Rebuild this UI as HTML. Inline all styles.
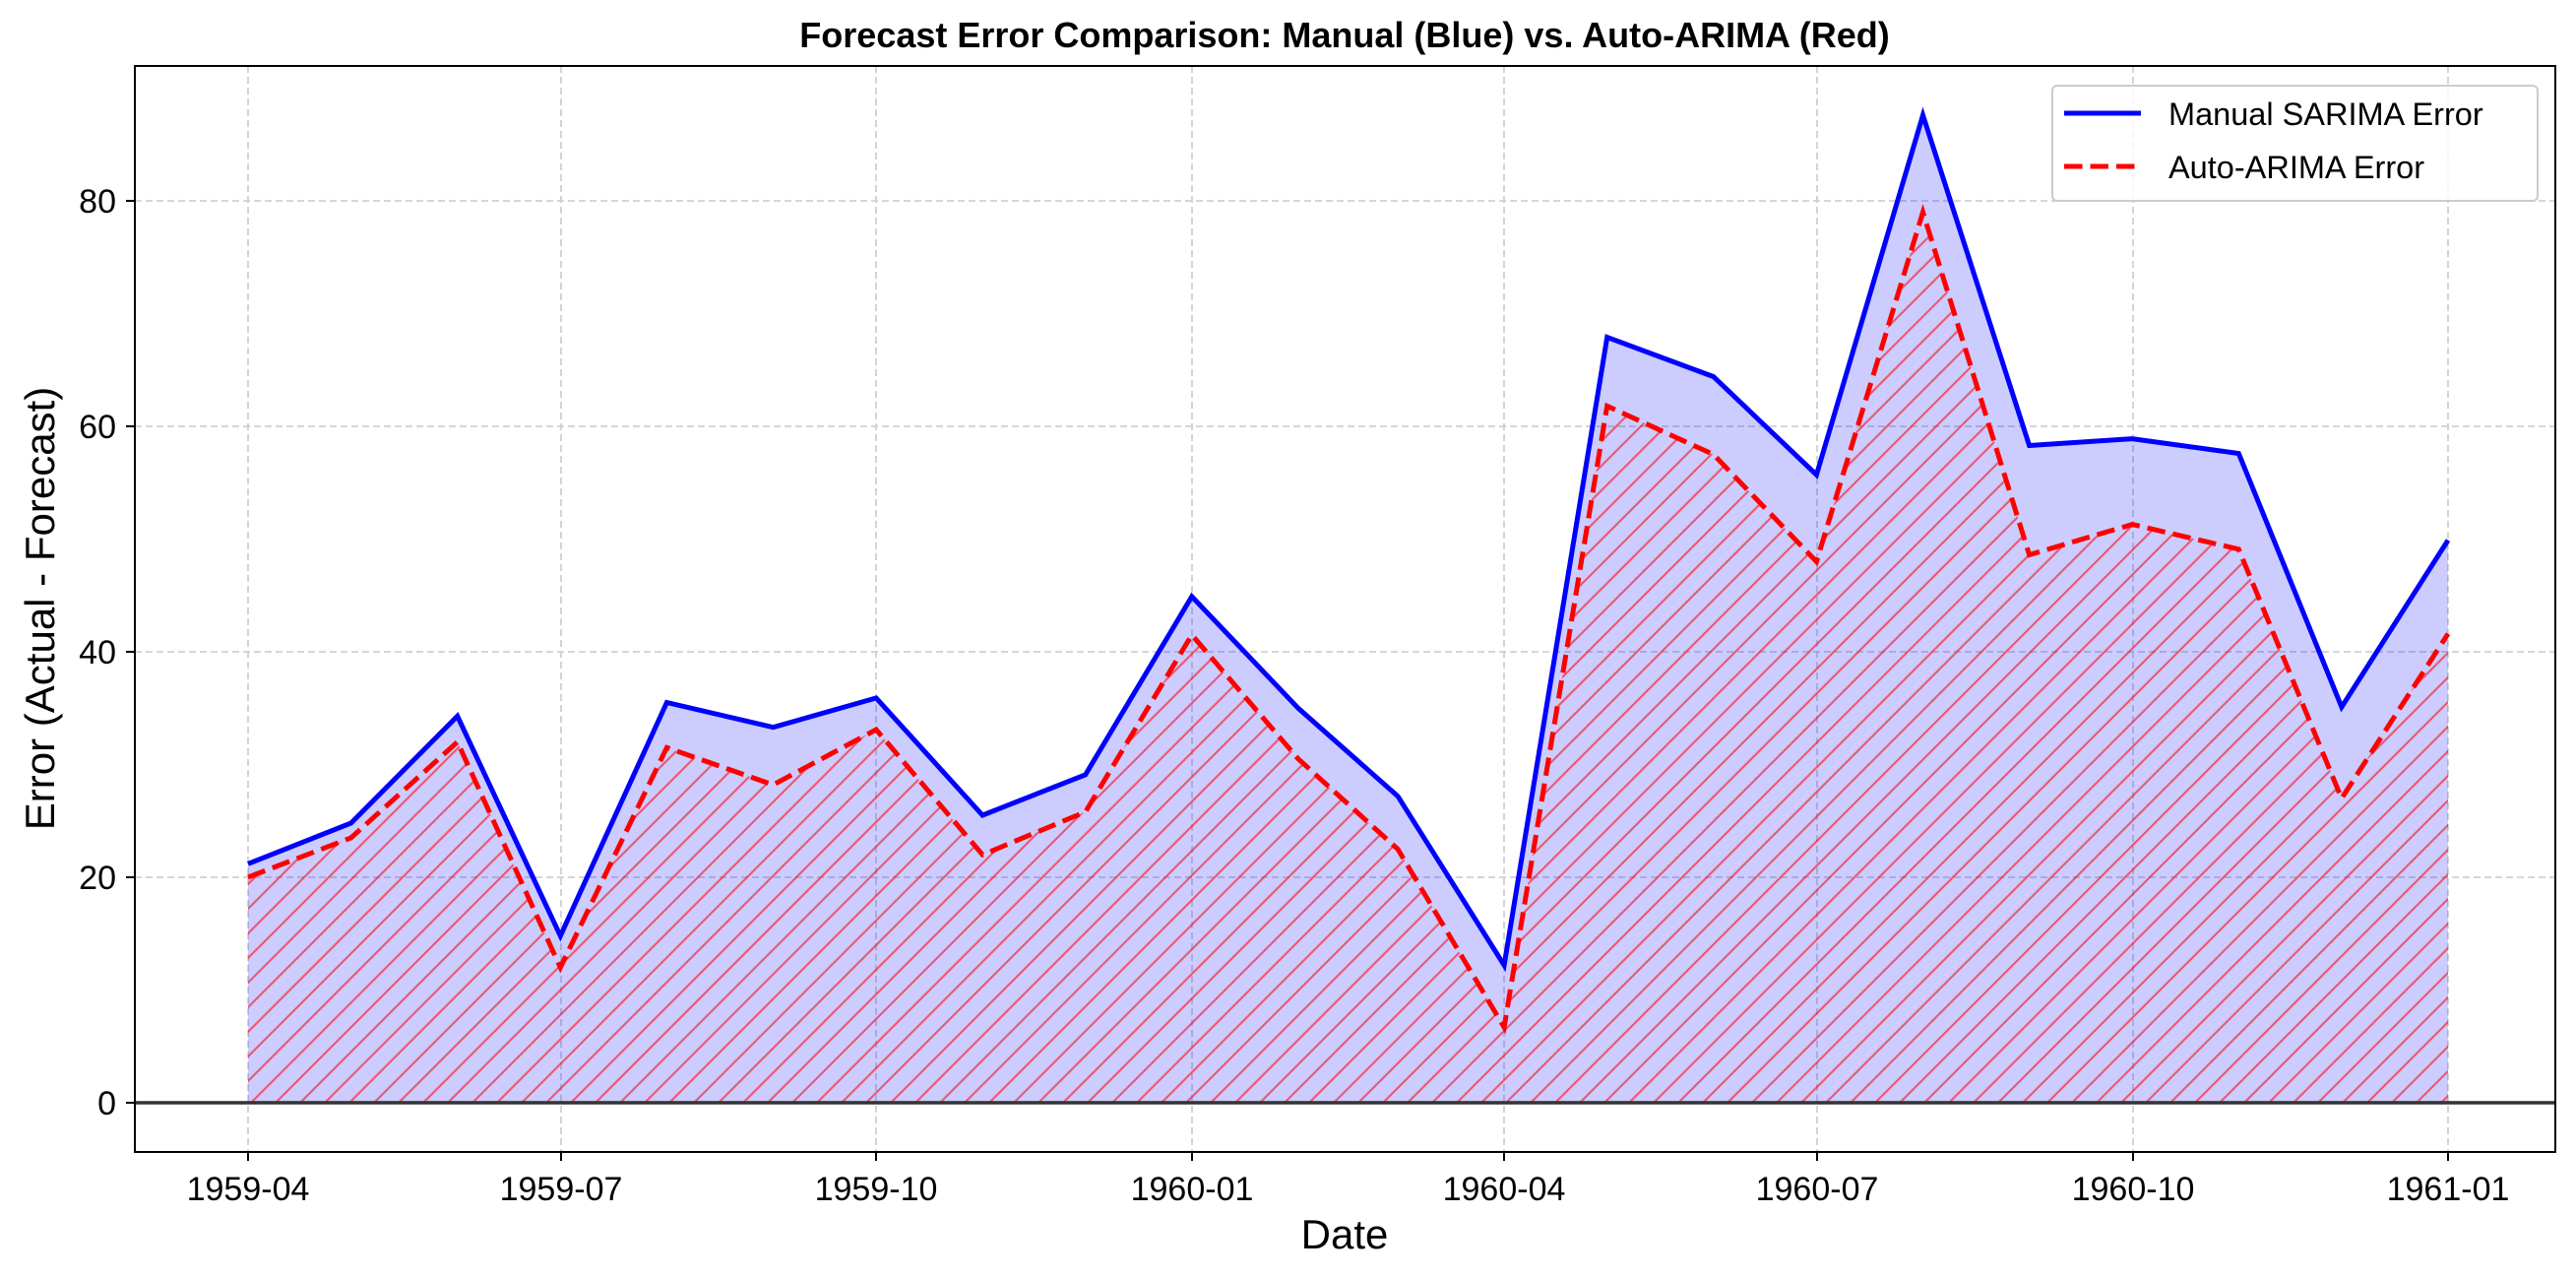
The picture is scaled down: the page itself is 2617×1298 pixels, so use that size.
<!DOCTYPE html>
<html><head><meta charset="utf-8"><style>
html,body{margin:0;padding:0;background:#fff;}
svg{display:block;font-family:"Liberation Sans",Arial,sans-serif;}
</style></head><body>
<svg width="2617" height="1298" viewBox="0 0 2617 1298" xmlns="http://www.w3.org/2000/svg">
<defs>
<pattern id="h" patternUnits="userSpaceOnUse" width="25" height="25">
<path d="M-6,6 L6,-6 M0,25 L25,0 M19,31 L31,19" stroke="rgba(255,0,0,0.55)" stroke-width="2.2"/>
</pattern>
<clipPath id="c"><rect x="137" y="67" width="2459" height="1103"/></clipPath>
</defs>
<rect width="2617" height="1298" fill="#fff"/>
<g stroke="#d0d0d0" stroke-width="1.8" stroke-dasharray="7,4">
<line x1="137" x2="2596" y1="1120" y2="1120"/>
<line x1="137" x2="2596" y1="891" y2="891"/>
<line x1="137" x2="2596" y1="662" y2="662"/>
<line x1="137" x2="2596" y1="433" y2="433"/>
<line x1="137" x2="2596" y1="204" y2="204"/>
<line y1="67" y2="1170" x1="252" x2="252"/>
<line y1="67" y2="1170" x1="570" x2="570"/>
<line y1="67" y2="1170" x1="890" x2="890"/>
<line y1="67" y2="1170" x1="1211" x2="1211"/>
<line y1="67" y2="1170" x1="1528" x2="1528"/>
<line y1="67" y2="1170" x1="1846" x2="1846"/>
<line y1="67" y2="1170" x1="2167" x2="2167"/>
<line y1="67" y2="1170" x1="2487" x2="2487"/>
</g>
<g clip-path="url(#c)">
<polygon fill="rgba(0,0,255,0.2)" points="252,1120 252,877.3 356.6,836 464.7,727.3 569.3,950.5 677.4,713.5 785.5,738.7 890.1,708.9 998.2,828 1102.7,786.8 1210.8,605.9 1318.9,719.3 1420,808.6 1528.1,980.3 1632.7,342.5 1740.8,382.6 1845.4,482.2 1953.5,117 2061.6,452.5 2166.2,445.6 2274.3,460.5 2378.9,718.1 2487,548.6 2487,1120"/>
<polygon fill="url(#h)" points="252,1120 252,891 356.6,850.9 464.7,753.6 569.3,982.6 677.4,759.3 785.5,797.1 890.1,741 998.2,868.1 1102.7,824.6 1210.8,644.8 1318.9,770.8 1420,862.4 1528.1,1043.3 1632.7,412.4 1740.8,461.6 1845.4,570.4 1953.5,215.5 2061.6,563.5 2166.2,532.6 2274.3,557.8 2378.9,810.9 2487,643.7 2487,1120"/>
<line x1="137" x2="2596" y1="1120" y2="1120" stroke="#333" stroke-width="3.4"/>
<polyline fill="none" stroke="#0000ff" stroke-width="5" points="252,877.3 356.6,836 464.7,727.3 569.3,950.5 677.4,713.5 785.5,738.7 890.1,708.9 998.2,828 1102.7,786.8 1210.8,605.9 1318.9,719.3 1420,808.6 1528.1,980.3 1632.7,342.5 1740.8,382.6 1845.4,482.2 1953.5,117 2061.6,452.5 2166.2,445.6 2274.3,460.5 2378.9,718.1 2487,548.6"/>
<polyline fill="none" stroke="#ff0000" stroke-width="5" stroke-dasharray="18.5,8" points="252,891 356.6,850.9 464.7,753.6 569.3,982.6 677.4,759.3 785.5,797.1 890.1,741 998.2,868.1 1102.7,824.6 1210.8,644.8 1318.9,770.8 1420,862.4 1528.1,1043.3 1632.7,412.4 1740.8,461.6 1845.4,570.4 1953.5,215.5 2061.6,563.5 2166.2,532.6 2274.3,557.8 2378.9,810.9 2487,643.7"/>
</g>
<rect x="137" y="67" width="2459" height="1103" fill="none" stroke="#000" stroke-width="2"/>
<g stroke="#000" stroke-width="2">
<line x1="128" x2="137" y1="1120" y2="1120"/><line x1="128" x2="137" y1="891" y2="891"/><line x1="128" x2="137" y1="662" y2="662"/><line x1="128" x2="137" y1="433" y2="433"/><line x1="128" x2="137" y1="204" y2="204"/>
<line y1="1170" y2="1179" x1="252" x2="252"/><line y1="1170" y2="1179" x1="570" x2="570"/><line y1="1170" y2="1179" x1="890" x2="890"/><line y1="1170" y2="1179" x1="1211" x2="1211"/><line y1="1170" y2="1179" x1="1528" x2="1528"/><line y1="1170" y2="1179" x1="1846" x2="1846"/><line y1="1170" y2="1179" x1="2167" x2="2167"/><line y1="1170" y2="1179" x1="2487" x2="2487"/>
</g>
<g font-size="34" fill="#000" text-anchor="end">
<text x="118" y="1132">0</text><text x="118" y="903">20</text><text x="118" y="674">40</text><text x="118" y="445">60</text><text x="118" y="216">80</text>
</g>
<g font-size="34" fill="#000" text-anchor="middle">
<text x="252" y="1219">1959-04</text><text x="570" y="1219">1959-07</text><text x="890" y="1219">1959-10</text><text x="1211" y="1219">1960-01</text><text x="1528" y="1219">1960-04</text><text x="1846" y="1219">1960-07</text><text x="2167" y="1219">1960-10</text><text x="2487" y="1219">1961-01</text>
</g>
<text x="1366" y="1268" font-size="42" text-anchor="middle">Date</text>
<text transform="translate(55,618) rotate(-90)" font-size="42" text-anchor="middle">Error (Actual - Forecast)</text>
<text x="1366" y="48" font-size="36" font-weight="bold" text-anchor="middle">Forecast Error Comparison: Manual (Blue) vs. Auto-ARIMA (Red)</text>
<rect x="2085" y="87" width="493" height="117" rx="5" fill="rgba(255,255,255,0.8)" stroke="#ccc" stroke-width="2"/>
<line x1="2097" x2="2175" y1="115" y2="115" stroke="#0000ff" stroke-width="5"/>
<line x1="2097" x2="2175" y1="169" y2="169" stroke="#ff0000" stroke-width="5" stroke-dasharray="18.5,8"/>
<text x="2203" y="127" font-size="32.5">Manual SARIMA Error</text>
<text x="2203" y="181" font-size="32.5">Auto-ARIMA Error</text>
</svg>
</body></html>
